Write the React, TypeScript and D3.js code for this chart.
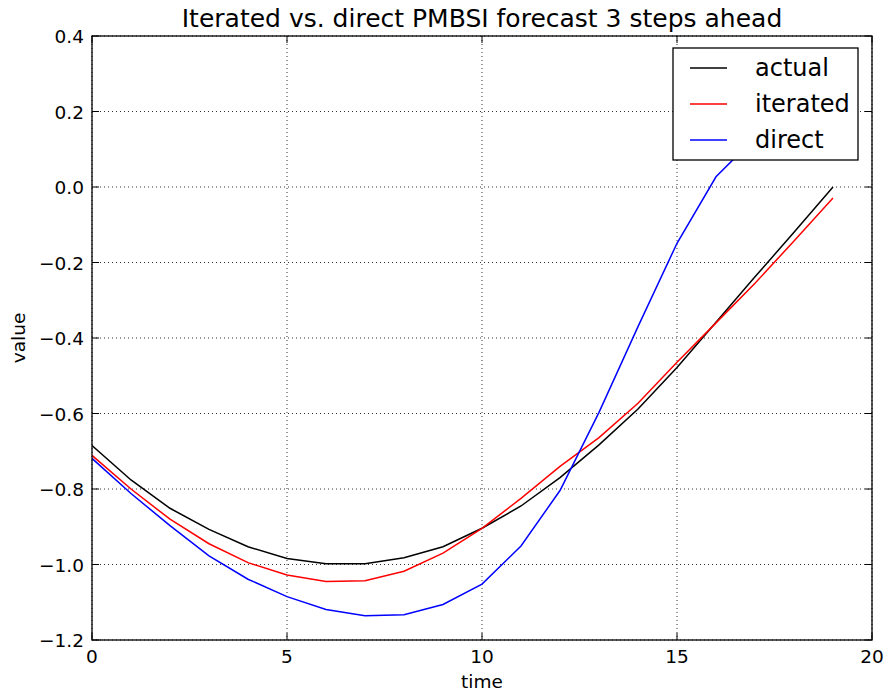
import React from "react";
import * as d3 from "d3";

// values
const steps = d3.range(0, 20);
const actual = [-0.685, -0.776, -0.851, -0.907, -0.953, -0.984, -0.998, -0.998, -0.982, -0.953, -0.904, -0.845, -0.77, -0.683, -0.588, -0.478, -0.358, -0.238, -0.12, 0.0];
const iterated = [-0.711, -0.8, -0.88, -0.945, -0.995, -1.028, -1.045, -1.043, -1.018, -0.97, -0.904, -0.825, -0.74, -0.664, -0.573, -0.464, -0.36, -0.255, -0.143, -0.029];
const direct = [-0.719, -0.812, -0.897, -0.977, -1.039, -1.085, -1.119, -1.136, -1.133, -1.106, -1.052, -0.951, -0.804, -0.597, -0.37, -0.149, 0.027, 0.13, 0.21, 0.27];

const xTicks = [0, 5, 10, 15, 20];
const yTicks = [0.4, 0.2, 0.0, -0.2, -0.4, -0.6, -0.8, -1.0, -1.2];

const series = [
  { name: "actual", color: "#000000", values: actual },
  { name: "iterated", color: "#ff0000", values: iterated },
  { name: "direct", color: "#0000ff", values: direct },
];

const W = 888;
const H = 696;
const margin = { top: 36, right: 16, bottom: 56, left: 92 };
const font = "DejaVu Sans, sans-serif";

const fmtY = (v: number) => {
  const s = v.toFixed(1);
  return s.startsWith("-") ? "\u2212" + s.slice(1) : s;
};

export default function App() {
  const x = d3.scaleLinear().domain([0, 20]).range([margin.left, W - margin.right]);
  const y = d3.scaleLinear().domain([-1.2, 0.4]).range([H - margin.bottom, margin.top]);
  const [x0, x1] = x.range();
  const [y0, y1] = y.range();

  const line = (vals: number[]) =>
    d3
      .line<number>()
      .x((_, i) => x(steps[i]))
      .y((d) => y(d))(vals) || "";

  const legend = { x: 673, y: 48, w: 185, h: 112 };

  return (
    <svg
      width={W}
      height={H}
      style={{ position: "absolute", left: 0, top: 0, background: "#fff" }}
      fontFamily={font}
    >
      <rect width={W} height={H} fill="#fff" />
      <defs>
        <clipPath id="plot">
          <rect x={x0} y={y1} width={x1 - x0} height={y0 - y1} />
        </clipPath>
      </defs>

      {/* grid */}
      {xTicks.map((t) => (
        <line key={"gx" + t} x1={x(t)} x2={x(t)} y1={y1} y2={y0} stroke="#000" strokeWidth={1} strokeDasharray="1,3" opacity={0.8} />
      ))}
      {yTicks.map((t) => (
        <line key={"gy" + t} x1={x0} x2={x1} y1={y(t)} y2={y(t)} stroke="#000" strokeWidth={1} strokeDasharray="1,3" opacity={0.8} />
      ))}

      {/* lines */}
      <g clipPath="url(#plot)">
        {series.map((s) => (
          <path key={s.name} d={line(s.values)} fill="none" stroke={s.color} strokeWidth={1.5} />
        ))}
      </g>

      {/* frame */}
      <rect x={x0} y={y1} width={x1 - x0} height={y0 - y1} fill="none" stroke="#000" strokeWidth={1.3} />

      {/* ticks */}
      {xTicks.map((t) => (
        <g key={"tx" + t}>
          <line x1={x(t)} x2={x(t)} y1={y0} y2={y0 - 7} stroke="#000" />
          <line x1={x(t)} x2={x(t)} y1={y1} y2={y1 + 7} stroke="#000" />
          <text x={x(t)} y={y0 + 23} textAnchor="middle" fontSize={18.5}>
            {t}
          </text>
        </g>
      ))}
      {yTicks.map((t) => (
        <g key={"ty" + t}>
          <line x1={x0} x2={x0 + 7} y1={y(t)} y2={y(t)} stroke="#000" />
          <line x1={x1} x2={x1 - 7} y1={y(t)} y2={y(t)} stroke="#000" />
          <text x={x0 - 8} y={y(t) + 7} textAnchor="end" fontSize={18.5}>
            {fmtY(t)}
          </text>
        </g>
      ))}

      {/* labels */}
      <text x={(x0 + x1) / 2} y={27} textAnchor="middle" fontSize={25}>
        Iterated vs. direct PMBSI forecast 3 steps ahead
      </text>
      <text x={(x0 + x1) / 2} y={688} textAnchor="middle" fontSize={18.5}>
        time
      </text>
      <text transform={`translate(25, ${(y0 + y1) / 2}) rotate(-90)`} textAnchor="middle" fontSize={18.5}>
        value
      </text>

      {/* legend */}
      <rect x={legend.x} y={legend.y} width={legend.w} height={legend.h} fill="#fff" stroke="#000" strokeWidth={1.3} />
      {series.map((s, i) => {
        const ly = legend.y + 20 + i * 36;
        return (
          <g key={"lg" + s.name}>
            <line x1={690} x2={727} y1={ly} y2={ly} stroke={s.color} strokeWidth={1.5} />
            <text x={755} y={ly + 8} fontSize={24}>
              {s.name}
            </text>
          </g>
        );
      })}
    </svg>
  );
}
